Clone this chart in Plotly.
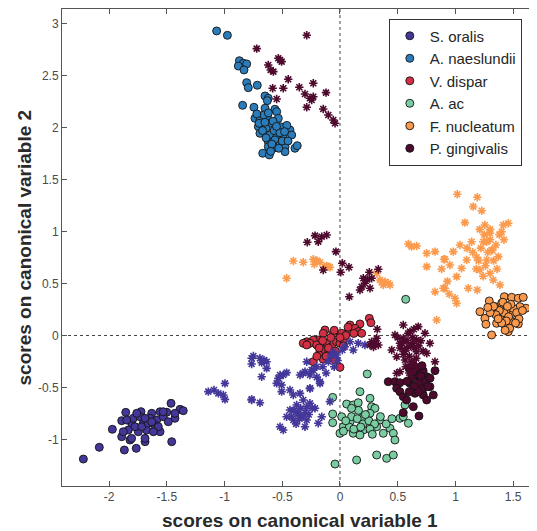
import plotly.graph_objects as go

species = ["S. oralis", "A. naeslundii", "V. dispar", "A. ac", "F. nucleatum", "P. gingivalis"]
colors = ["#43379a", "#2b7cba", "#d42f45", "#7acca2", "#fb9a4c", "#4e0a2d"]

# ---- circle markers (one group per species) ----
s_oralis_cx = [-2.222, -2.084, -1.971, -1.890, -1.855, -1.867, -1.764, -1.723, -1.818, -1.688, -1.457, -1.463, -1.385,
               -1.357, -1.429, -1.558, -1.630, -1.558, -1.500, -1.703, -1.890, -1.804, -1.790, -1.645, -1.587, -1.602,
               -1.573, -1.674, -1.746, -1.804, -1.688, -1.530, -1.487, -1.616, -1.847, -1.775, -1.717, -1.660, -1.732,
               -1.688, -1.630, -1.760, -1.833, -1.876, -1.429, -1.530]
s_oralis_cy = [-1.188, -1.075, -0.902, -0.819, -0.739, -1.101, -1.085, -0.732, -1.005, -1.021, -1.021, -0.652, -0.710,
               -0.723, -0.796, -0.925, -0.748, -0.733, -0.738, -0.844, -0.973, -0.844, -0.796, -0.796, -0.813, -0.861,
               -0.877, -0.909, -0.925, -0.989, -0.989, -0.781, -0.829, -0.925, -0.813, -0.877, -0.877, -0.844, -0.781,
               -0.796, -0.830, -0.748, -0.909, -0.925, -0.748, -0.733]

a_naes_cx = [-1.068, -0.975, -0.871, -0.837, -0.808, -0.880, -0.831, -0.808, -0.794, -0.716, -0.843, -0.649, -0.621,
             -0.629, -0.745, -0.649, -0.563, -0.548, -0.736, -0.693, -0.629, -0.534, -0.606, -0.707, -0.641, -0.519,
             -0.433, -0.693, -0.606, -0.548, -0.491, -0.418, -0.621, -0.563, -0.519, -0.476, -0.621, -0.577, -0.669,
             -0.612, -0.476, -0.390, -0.370, -0.66, -0.58, -0.57, -0.67, -0.52, -0.46, -0.64, -0.50, -0.59, -0.70,
             -0.45, -0.55, -0.62, -0.72, -0.60, -0.53, -0.65, -0.48]
a_naes_cy = [2.928, 2.886, 2.642, 2.617, 2.611, 2.591, 2.553, 2.431, 2.383, 2.406, 2.213, 2.303, 2.281, 2.258, 2.194,
             2.185, 2.175, 2.152, 2.088, 2.072, 2.104, 2.088, 2.040, 2.008, 1.992, 2.008, 1.976, 1.944, 1.928, 1.912,
             1.928, 1.928, 1.864, 1.880, 1.832, 1.815, 1.815, 1.800, 1.752, 1.736, 1.767, 1.800, 1.825, 2.12, 2.06,
             1.97, 1.97, 1.95, 2.02, 1.90, 1.87, 1.84, 2.04, 1.87, 2.01, 2.14, 2.13, 1.77, 1.80, 2.05, 1.96]

v_dispar_cx = [0.254, 0.268, 0.173, 0.087, 0.130, 0.158, 0.188, 0.072, 0.015, -0.058, -0.130, -0.145, -0.188, -0.231,
               -0.288, -0.318, -0.260, -0.202, -0.115, -0.072, -0.029, 0.000, 0.029, -0.173, -0.130, -0.101, -0.087,
               -0.231, -0.145, -0.058, 0.000, -0.043, -0.288, -0.05, 0.05, 0.12, -0.08, 0.00, -0.15, -0.10, -0.18,
               -0.04, 0.07, -0.20, -0.12, 0.03]
v_dispar_cy = [0.165, 0.123, 0.111, 0.101, 0.069, 0.037, 0.021, 0.037, 0.021, 0.021, 0.053, 0.021, -0.043, -0.043,
               -0.060, -0.075, -0.075, -0.091, -0.075, -0.108, -0.060, -0.075, -0.043, -0.156, -0.139, -0.171, -0.204,
               -0.252, -0.229, -0.204, -0.306, -0.236, -0.091, 0.05, 0.00, 0.02, -0.02, -0.02, -0.05, -0.12, -0.12,
               -0.15, 0.08, -0.20, -0.20, -0.10]

a_ac_cx = [-0.063, 0.173, 0.260, 0.058, 0.115, 0.158, -0.063, -0.063, 0.015, 0.029, 0.000, 0.087, 0.115, 0.188, 0.202,
           0.274, 0.303, 0.260, 0.346, 0.318, 0.375, 0.433, 0.462, 0.476, 0.519, 0.548, 0.592, 0.563, -0.043, 0.144,
           0.318, 0.404, 0.462, 0.173, 0.10, 0.15, 0.20, 0.25, 0.30, 0.08, 0.12, 0.18, 0.26, 0.05, 0.22, 0.28, 0.35,
           0.40, 0.45, 0.03, 0.16, 0.10, 0.569, 0.236]
a_ac_cy = [-0.595, -0.540, -0.604, -0.659, -0.668, -0.646, -0.755, -0.838, -0.781, -0.877, -0.940, -0.829, -0.940,
           -0.796, -0.909, -0.685, -0.700, -0.748, -0.813, -0.877, -0.940, -0.892, -0.940, -1.005, -0.796, -0.781,
           -0.844, -0.668, -1.236, -1.197, -1.149, -1.181, -1.149, -0.957, -0.78, -0.80, -0.85, -0.82, -0.85, -0.88,
           -0.90, -0.88, -0.90, -0.82, -0.76, -0.95, -0.78, -0.85, -0.80, -0.92, -0.72, -0.70, 0.348, -0.370]

f_nuc_cx = [1.293, 1.423, 1.487, 1.544, 1.587, 1.212, 1.255, 1.264, 1.313, 1.457, 1.544, 1.610, 1.342, 1.385, 1.443,
            1.500, 1.558, 1.356, 1.429, 1.487, 1.400, 1.42, 1.38, 1.46, 1.50, 1.44, 1.40, 1.48, 1.53, 1.35, 1.55, 1.41,
            1.47, 1.30, 1.33, 1.58, 1.45, 1.37, 1.52, 1.28, 1.43]
f_nuc_cy = [0.332, 0.373, 0.367, 0.358, 0.367, 0.229, 0.165, 0.108, 0.005, 0.037, 0.111, 0.262, 0.277, 0.181, 0.245,
            0.213, 0.277, 0.117, 0.101, 0.133, 0.310, 0.22, 0.24, 0.18, 0.26, 0.14, 0.12, 0.30, 0.22, 0.20, 0.16, 0.32,
            0.07, 0.22, 0.28, 0.24, 0.28, 0.16, 0.12, 0.27, 0.05]

p_ging_cx = [0.418, 0.476, 0.519, 0.491, 0.519, 0.548, 0.577, 0.649, 0.693, 0.751, 0.823, 0.779, 0.721, 0.751, 0.649,
             0.606, 0.60, 0.64, 0.68, 0.72, 0.66, 0.62, 0.70, 0.74, 0.68, 0.64, 0.72, 0.60, 0.68, 0.76, 0.63, 0.71,
             0.58, 0.78, 0.635, 0.684, 0.548, 0.808]
p_ging_cy = [-0.444, -0.444, -0.454, -0.508, -0.540, -0.588, -0.620, -0.380, -0.428, -0.396, -0.338, -0.492, -0.572,
             -0.620, -0.556, -0.460, -0.32, -0.29, -0.31, -0.34, -0.37, -0.41, -0.39, -0.44, -0.46, -0.49, -0.51, -0.54,
             -0.54, -0.49, -0.35, -0.29, -0.44, -0.41, -0.684, -0.774, -0.742, -0.572]

# ---- asterisk markers (one group per species) ----
s_oralis_sx = [-0.750, -0.693, -0.658, -0.678, -0.765, -0.635, -0.678, -0.996, -1.140, -1.091, -1.053, -1.010, -0.996,
               -0.765, -0.693, -0.534, -0.491, -0.462, -0.548, -0.505, -0.433, -0.346, -0.303, -0.260, -0.245, -0.202,
               -0.173, -0.260, -0.346, -0.404, -0.505, -0.318, -0.288, -0.375, -0.433, -0.462, -0.404, -0.491, -0.519,
               -0.361, -0.288, -0.303, -0.188, -0.216, -0.260, -0.087, -0.158, -0.34, -0.30, -0.37, -0.32, -0.27,
               -0.40, -0.35, -0.24, -0.42, -0.38, -0.765, -0.635, -0.519, 0.087, 0.158, 0.216, 0.115, 0.043, -0.288,
               -0.231, -0.173, -0.260, -0.318, -0.058, -0.029, -0.10, -0.05, -0.15, -0.12, -0.20, 0.02, -0.08, -0.02,
               -0.765]
s_oralis_sy = [-0.197, -0.219, -0.236, -0.261, -0.274, -0.316, -0.396, -0.460, -0.540, -0.524, -0.556, -0.572, -0.614,
               -0.614, -0.646, -0.412, -0.380, -0.357, -0.460, -0.476, -0.524, -0.380, -0.348, -0.380, -0.332, -0.300,
               -0.460, -0.508, -0.556, -0.572, -0.540, -0.620, -0.685, -0.668, -0.716, -0.781, -0.813, -0.909, -0.877,
               -0.748, -0.813, -0.877, -0.844, -0.700, -0.652, -0.636, -0.781, -0.70, -0.74, -0.75, -0.78, -0.76,
               -0.72, -0.80, -0.70, -0.78, -0.85, -0.219, -0.252, -0.380, -0.060, -0.075, -0.091, -0.139, -0.108,
               -0.252, -0.332, -0.444, -0.508, -0.363, -0.156, -0.188, -0.25, -0.30, -0.30, -0.36, -0.40, -0.14, -0.20,
               -0.24, -0.620]

f_nuc_sx = [1.016, 1.189, 1.154, 1.227, 1.082, 1.255, 1.414, 1.457, 1.299, 1.400, 1.140, 1.241, 1.039, 1.313, 1.371,
            0.981, 0.900, 1.097, 1.184, 1.270, 0.952, 1.053, 1.212, 1.299, 1.327, 1.010, 1.385, 1.111, 1.189, 0.909,
            0.946, 0.996, 1.010, 1.25, 1.30, 1.35, 1.28, 1.22, 1.33, 1.26, 1.20, 1.38, 1.30, 1.15, 1.10, 1.24, 1.36,
            1.42, 1.18, 1.32, 1.27, 1.21, 0.93, 0.88, -0.462, -0.404, -0.318, -0.231, -0.222, -0.173, -0.115, -0.087,
            -0.101, -0.13, -0.20, 0.318, 0.346, 0.390, 0.418, 0.375, 0.433, 0.361, 0.592, 0.664, 0.751, 0.823, 0.909,
            0.751, 0.823, 0.895, 0.837, 0.620]
f_nuc_sy = [1.358, 1.329, 1.239, 1.200, 1.085, 1.062, 1.062, 1.079, 0.983, 0.998, 0.902, 0.902, 0.870, 0.822, 0.758,
            0.806, 0.733, 0.726, 0.752, 0.726, 0.678, 0.646, 0.630, 0.598, 0.534, 0.566, 0.486, 0.454, 0.438, 0.454,
            0.399, 0.358, 0.310, 0.97, 0.92, 0.87, 0.80, 0.84, 0.72, 0.67, 0.72, 0.97, 1.02, 0.80, 0.84, 0.57, 0.64,
            0.92, 0.64, 0.82, 0.90, 1.02, 0.52, 0.64, 0.550, 0.716, 0.704, 0.733, 0.685, 0.704, 0.668, 0.656, 0.662,
            0.66, 0.72, 0.598, 0.534, 0.517, 0.502, 0.486, 0.486, 0.517, 0.880, 0.861, 0.790, 0.806, 0.733, 0.662,
            0.421, 0.454, 0.149, 0.854]

p_ging_sx = [-0.288, -0.721, -0.534, -0.505, -0.621, -0.600, -0.577, -0.448, -0.231, -0.491, -0.583, -0.352, -0.303,
             -0.260, -0.231, -0.121, -0.548, -0.288, -0.145, -0.101, -0.058, -0.043, -0.519, -0.245,
             -0.216, -0.158, -0.115, -0.283, -0.188, -0.035, 0.020, 0.078, -0.145, 0.006, 0.254, 0.332, 0.236, 0.216,
             0.188, 0.260, 0.173, 0.081, 0.274, 0.202,
             0.548, 0.678, 0.476, 0.606, 0.736, 0.779, 0.519, 0.448, 0.635, 0.577, 0.664, 0.751, 0.823, 0.491, 0.563,
             0.519, 0.606, 0.664, 0.548, 0.58, 0.61, 0.54, 0.63, 0.56, 0.60, 0.64, 0.68, 0.52, 0.59, 0.66, 0.55,
             0.62, 0.70, 0.50, 0.57, 0.72, 0.64, 0.60, 0.66,
             0.323, 0.318, 0.274, 0.303, 0.332, 0.260, 0.29, 0.491]
p_ging_sy = [2.886, 2.758, 2.665, 2.633, 2.601, 2.553, 2.537, 2.463, 2.425, 2.377, 2.377, 2.387, 2.322, 2.281, 2.296,
             2.335, 2.274, 2.194, 2.178, 2.120, 2.072, 2.040, 2.649, 2.264,
             0.960, 0.950, 0.966, 0.896, 0.902, 0.806, 0.694, 0.656, 0.630, 0.608, 0.608, 0.637, 0.540, 0.502, 0.469,
             0.454, 0.438, 0.373, 0.550, 0.550,
             0.101, 0.085, 0.005, 0.037, 0.021, -0.075, -0.075, -0.139, -0.075, -0.123, -0.156, -0.171, -0.252, -0.204,
             -0.236, -0.348, -0.284, -0.043, -0.027, -0.05, -0.10, -0.08, -0.02, -0.15, -0.20, -0.12, -0.10, -0.12,
             0.02, -0.22, -0.18, -0.25, -0.05, -0.02, -0.30, -0.15, 0.06, -0.36, -0.30,
             0.060, -0.027, -0.060, -0.075, -0.091, -0.091, -0.11, -0.363]

circle_x = [s_oralis_cx, a_naes_cx, v_dispar_cx, a_ac_cx, f_nuc_cx, p_ging_cx]
circle_y = [s_oralis_cy, a_naes_cy, v_dispar_cy, a_ac_cy, f_nuc_cy, p_ging_cy]
star_x = {0: s_oralis_sx, 4: f_nuc_sx, 5: p_ging_sx}
star_y = {0: s_oralis_sy, 4: f_nuc_sy, 5: p_ging_sy}

x_ticks = [-2, -1.5, -1, -0.5, 0, 0.5, 1, 1.5]
y_ticks = [-1, -0.5, 0, 0.5, 1, 1.5, 2, 2.5, 3]

FONT = "Liberation Sans, Arial, sans-serif"

fig = go.Figure()
for i, name in enumerate(species):
    fig.add_trace(go.Scatter(
        x=circle_x[i], y=circle_y[i], mode="markers", name=name,
        marker=dict(symbol="circle", size=8, color=colors[i],
                    line=dict(color="rgba(20,20,20,0.9)", width=1)),
    ))
for i in star_x:
    fig.add_trace(go.Scatter(
        x=star_x[i], y=star_y[i], mode="markers", name=species[i], showlegend=False,
        marker=dict(symbol="asterisk-open", size=7, color=colors[i],
                    line=dict(color=colors[i], width=1.6)),
    ))

axis_common = dict(showgrid=False, zeroline=False, showline=True, linecolor="#555555", linewidth=1,
                   mirror="ticks", ticks="inside", ticklen=5, tickcolor="#555555",
                   tickfont=dict(family=FONT, size=12, color="#4a4a4a"))

# The page body keeps the browser's default 8 px margin, so the figure is sized to fit the window.
fig.update_layout(
    width=529, height=523,
    margin=dict(l=54, r=0, t=1, b=45),
    paper_bgcolor="white", plot_bgcolor="white",
    xaxis=dict(range=[-2.407, 1.706], tickvals=x_ticks, ticktext=[f"{v:g}" for v in x_ticks], **axis_common),
    yaxis=dict(range=[-1.447, 3.139], tickvals=y_ticks, ticktext=[f"{v:g}" for v in y_ticks], **axis_common),
    showlegend=True,
    legend=dict(x=0.688, y=0.98, xanchor="left", yanchor="top", bgcolor="white",
                bordercolor="#333333", borderwidth=1,
                font=dict(family=FONT, size=15, color="#262626")),
    shapes=[
        dict(type="line", xref="x", yref="paper", x0=0, x1=0, y0=0, y1=1, layer="below",
             line=dict(color="#444444", width=1, dash="dot")),
        dict(type="line", xref="paper", yref="y", x0=0, x1=1, y0=0, y1=0, layer="below",
             line=dict(color="#444444", width=1, dash="dot")),
    ],
    annotations=[
        dict(text="<b>scores on canonical variable 1</b>", xref="paper", yref="paper", x=0.5, y=0,
             yshift=-34, yanchor="middle", showarrow=False,
             font=dict(family=FONT, size=19, color="#2a2a2a")),
        dict(text="<b>scores on canonical variable 2</b>", xref="paper", yref="paper", x=0, y=0.5,
             xshift=-38, xanchor="center", textangle=-90, showarrow=False,
             font=dict(family=FONT, size=19, color="#2a2a2a")),
    ],
)

fig.write_html("out.html")
